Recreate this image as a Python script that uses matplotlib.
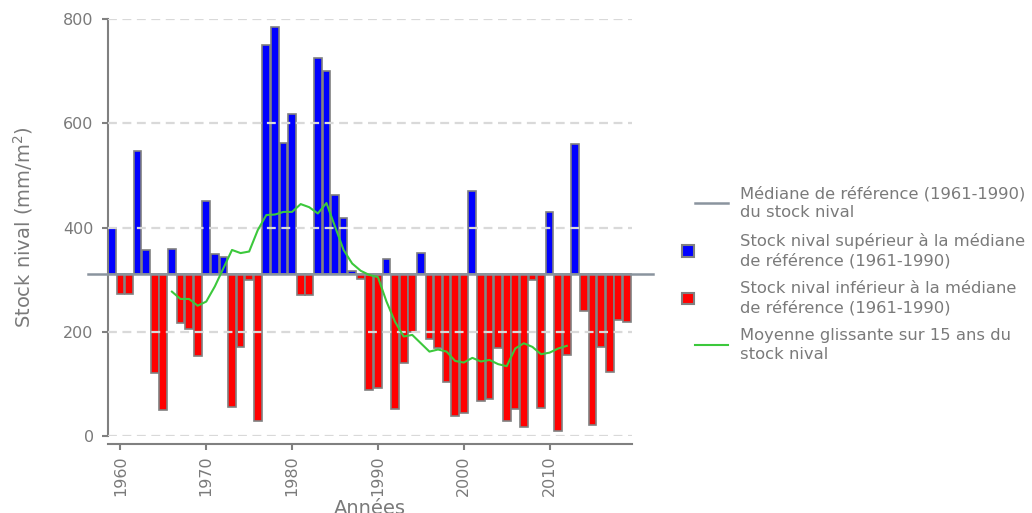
import matplotlib.pyplot as plt
import numpy as np
from matplotlib.lines import Line2D
from matplotlib.patches import Patch, Rectangle
from matplotlib.legend_handler import HandlerBase

# Données
years = np.arange(1959, 2020)
stock = [400, 272, 272, 547, 357, 120, 50, 359, 217, 205,
         154, 450, 349, 344, 55, 170, 299, 29, 750, 784,
         563, 617, 271, 271, 726, 701, 463, 418, 317, 301,
         88, 93, 340, 52, 140, 200, 351, 186, 168, 104,
         38, 45, 470, 68, 72, 168, 29, 52, 17, 299,
         53, 429, 10, 155, 560, 240, 21, 170, 123, 223,
         219]
mediane = 310

ma_years = np.arange(1966, 2013)
ma_values = [277, 263, 263, 250, 258, 287, 322, 357, 351, 354,
             395, 424, 425, 430, 430, 445, 439, 427, 447, 402,
             357, 331, 317, 309, 305, 258, 219, 191, 194, 178,
             162, 166, 162, 144, 141, 150, 143, 146, 138, 134,
             168, 178, 171, 157, 160, 168, 173]

yticks = [0, 200, 400, 600, 800]
xticks = [1960, 1970, 1980, 1990, 2000, 2010]

grey = '#808080'
txt = '#7a7a7a'

fig = plt.figure(figsize=(10.32, 5.13), dpi=100)
ax = fig.add_axes([0.1042, 0.150, 0.5082, 0.8129])

stock = np.array(stock)
colors = np.where(stock >= mediane, '#0000ff', '#ff0000')
ax.bar(years, stock - mediane, bottom=mediane, width=0.9, color=colors,
       edgecolor=grey, linewidth=1.2, zorder=2)

# Grille pointillée
for v in yticks:
    ax.axhline(v, color='#d9d9d9', lw=1.6, ls=(0, (4, 2.5)), zorder=3)

# Médiane de référence
ax.axhline(mediane, xmin=-0.037, xmax=1.04, clip_on=False, color='#8a949e',
           lw=1.8, zorder=4)

# Moyenne glissante
ax.plot(ma_years, ma_values, color='#3cc83c', lw=1.5, zorder=5)

ax.set_xlim(1958.5, 2019.6)
ax.set_ylim(0, 800)
ax.set_yticks(yticks)
ax.set_xticks(xticks)

for s in ['top', 'right']:
    ax.spines[s].set_visible(False)
for s in ['left', 'bottom']:
    ax.spines[s].set_color(grey)
    ax.spines[s].set_linewidth(1.5)
ax.spines['bottom'].set_position(('outward', 6))
ax.tick_params(colors=grey, labelcolor=txt, labelsize=11.5, length=4,
               width=1.5, pad=6)
ax.tick_params(axis='x', labelrotation=90, pad=4)

ax.set_ylabel('Stock nival (mm/m$^2$)', color=txt, fontsize=14, labelpad=20)
ax.set_xlabel('Années', color=txt, fontsize=14, labelpad=2)


class SquareHandler(HandlerBase):
    def create_artists(self, legend, orig_handle, xdescent, ydescent,
                       width, height, fontsize, trans):
        s = 8.5
        r = Rectangle((-xdescent - 9, -ydescent + height / 2 - s / 2), s, s,
                      facecolor=orig_handle.get_facecolor(), edgecolor=grey,
                      lw=1.5, transform=trans)
        return [r]


handles = [
    Line2D([0], [0], color='#8a949e', lw=1.8),
    Patch(facecolor='#0000ff'),
    Patch(facecolor='#ff0000'),
    Line2D([0], [0], color='#3cc83c', lw=1.5),
]
labels = [
    'Médiane de référence (1961-1990)\ndu stock nival',
    'Stock nival supérieur à la médiane\nde référence (1961-1990)',
    'Stock nival inférieur à la médiane\nde référence (1961-1990)',
    'Moyenne glissante sur 15 ans du\nstock nival',
]
leg = fig.legend(handles, labels, loc='center left',
                 bbox_to_anchor=(0.659, 0.466), frameon=False,
                 fontsize=11.8, labelcolor=txt, handlelength=2.0,
                 handletextpad=0.75, labelspacing=0.75,
                 handler_map={Patch: SquareHandler()})
for t in leg.get_texts():
    t.set_linespacing(1.35)

fig.savefig('out.png', dpi=100)
